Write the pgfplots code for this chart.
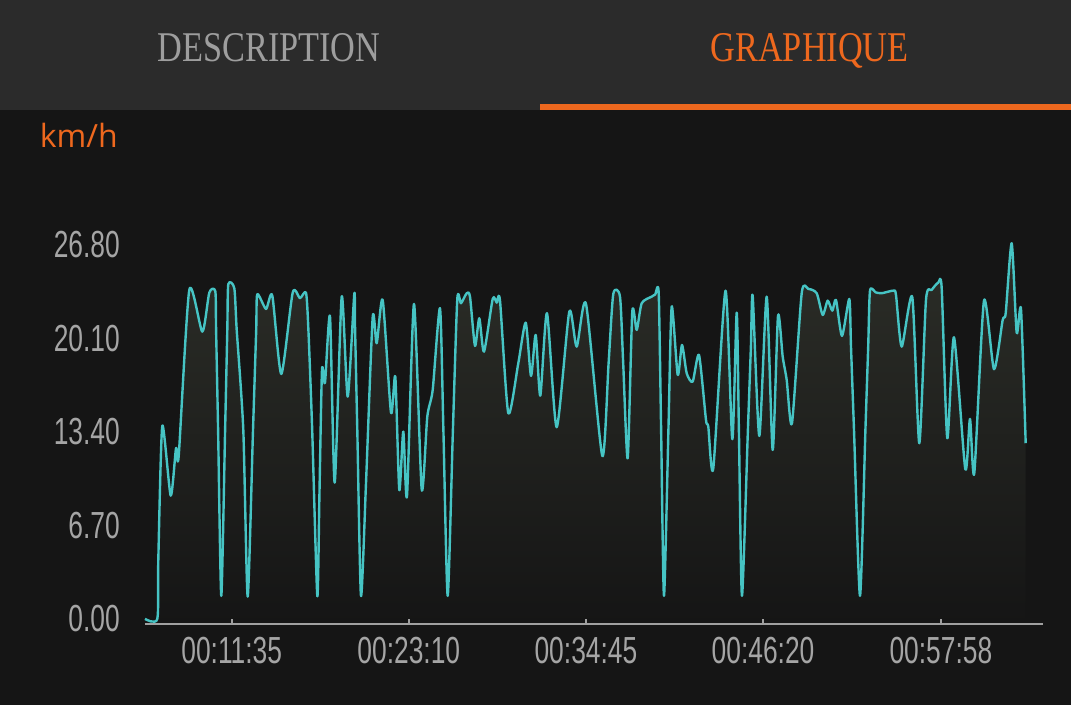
\documentclass[border=0pt]{standalone}
\usepackage{fontspec}
\usepackage{pgfplots}
\usepackage{pgfplotstable}
\pgfplotsset{compat=1.18}

\newfontfamily\tickfont[FakeStretch=0.70]{Liberation Sans}
\newfontfamily\headfont[FakeStretch=0.81]{Liberation Serif}
\newfontfamily\unitfont{Open Sans}

\definecolor{bodybg}{RGB}{21,21,21}
\definecolor{headbg}{RGB}{43,43,43}
\definecolor{accent}{RGB}{238,104,30}
\definecolor{headgray}{RGB}{158,158,158}
\definecolor{tickgray}{RGB}{165,165,165}
\definecolor{axisgray}{RGB}{160,160,160}
\definecolor{speed}{RGB}{70,196,196}
\definecolor{filltop}{RGB}{44,46,40}

% time in minutes, speed in km/h
\pgfplotstableread{
t v
5.912 0
6.717 0
6.782 4.228
7.044 13.830
7.593 8.835
7.940 12.232
8.116 11.680
8.810 23.575
9.660 20.587
10.118 23.382
10.510 23.482
10.562 20.71
10.693 13.54
10.902 1.648
11.151 13.54
11.295 20.71
11.360 23.984
11.753 23.698
11.910 20.71
12.341 13.54
12.629 1.598
12.976 13.54
13.185 20.71
13.257 23.267
13.826 22.214
14.238 23.167
14.827 17.556
15.572 23.382
16.050 22.981
16.442 23.382
16.599 20.71
16.847 13.54
17.181 1.648
17.318 8.76
17.488 17.843
17.685 16.933
18.012 21.662
18.319 9.767
18.777 23.095
19.169 15.930
19.601 23.289
19.653 20.71
19.797 13.54
20.039 1.648
20.366 9.724
20.804 21.619
21.066 19.756
21.458 22.859
22.001 14.783
22.282 17.363
22.544 9.244
22.806 13.422
23.048 8.814
23.505 22.572
24.009 9.294
24.375 14.496
24.728 16.410
25.206 22.264
25.428 13.54
25.710 1.648
26.050 13.54
26.337 22.909
26.579 22.623
26.952 23.339
27.168 23.095
27.495 19.563
27.776 21.548
28.084 19.154
28.653 22.931
28.914 22.666
29.130 22.809
29.673 14.740
30.327 18.323
30.811 21.232
31.158 17.413
31.465 20.351
31.766 16.001
32.204 21.906
32.838 13.737
33.662 22.020
34.146 19.513
34.755 22.572
35.821 11.680
36.233 18.34
36.540 23.289
36.978 23.095
37.187 18.34
37.482 11.515
37.783 22.020
38.071 20.709
38.398 22.623
39.052 23.095
39.280 23.25
39.509 23.339
39.668 13.54
39.856 1.648
40.145 13.54
40.360 22.379
40.752 17.485
41.033 19.634
41.341 17.606
41.733 17.004
42.145 18.918
42.603 14.260
42.753 13.780
43.080 10.799
43.878 23.525
44.323 12.877
44.611 21.949
44.755 13.54
44.957 1.648
45.343 13.54
45.540 19.51
45.657 23.146
46.089 13.113
46.573 23.095
46.965 12.110
47.312 21.712
47.619 18.796
47.881 17.126
48.227 14.024
48.862 23.339
49.294 23.647
49.843 23.339
50.235 21.784
50.562 22.809
50.863 22.092
51.105 22.859
51.498 20.279
51.975 22.931
52.086 19.51
52.283 13.54
52.675 1.648
53.029 13.54
53.211 19.51
53.329 23.525
53.700 23.40
54.094 23.339
54.853 23.525
55.029 23.217
55.402 19.513
56.095 23.052
56.553 12.590
56.991 22.859
57.364 23.575
57.796 24.099
58.018 23.698
58.384 12.949
58.823 20.186
59.562 10.727
59.869 14.332
60.150 10.441
60.785 22.809
61.439 17.893
62.008 21.426
62.204 21.906
62.596 26.922
62.923 20.516
63.205 22.193
63.512 12.590
}\speedtable

\begin{document}
\begin{tikzpicture}[x=1pt,y=1pt]
  % page and header
  \fill[bodybg] (0,0) rectangle (1071,705);
  \path[use as bounding box] (0,0) rectangle (1071,705);
  \fill[headbg] (0,595) rectangle (1071,705);
  \fill[accent] (540,595) rectangle (1071,601);
  \node[anchor=base, inner sep=0pt, text=headgray,
        font=\headfont\fontsize{42.3pt}{46pt}\selectfont] at (269,643.3) {DESCRIPTION};
  \node[anchor=base, inner sep=0pt, text=accent,
        font=\headfont\fontsize{42.3pt}{46pt}\selectfont] at (809.6,643.3) {GRAPHIQUE};
  \node[anchor=base west, inner sep=0pt, text=accent,
        font=\unitfont\fontsize{32pt}{36pt}\selectfont] at (39.6,557.7) {km/h};

  \begin{axis}[
      at={(145pt,81.5pt)}, anchor=south west,
      scale only axis,
      width=898pt, height=395.3pt,
      xmin=5.912, xmax=64.644,
      ymin=-0.33, ymax=28,
      axis x line=bottom, axis y line=left,
      x axis line style={draw=axisgray, line width=2pt, -},
      y axis line style={draw=none},
      tick align=inside,
      major tick length=7pt,
      xtick style={draw=axisgray, line width=2pt},
      ytick style={draw=none},
      xtick={11.5833,23.1667,34.75,46.3333,57.9667},
      xticklabels={00:11:35,00:23:10,00:34:45,00:46:20,00:57:58},
      ytick={0,6.7,13.4,20.1,26.8},
      yticklabels={0.00,6.70,13.40,20.10,26.80},
      ticklabel style={font=\tickfont\fontsize{37.7pt}{40pt}\selectfont,
                       text=tickgray, inner sep=0pt},
      xticklabel shift=13pt,
      yticklabel shift=25pt,
      clip=false,
    ]
    \addplot[draw=none, smooth, tension=0.4, top color=filltop, bottom color=bodybg]
      table[x=t, y=v] {\speedtable} \closedcycle;
    \addplot[speed, line width=2.4pt, smooth, tension=0.4, line join=round]
      table[x=t, y=v] {\speedtable};
  \end{axis}
\end{tikzpicture}
\end{document}
